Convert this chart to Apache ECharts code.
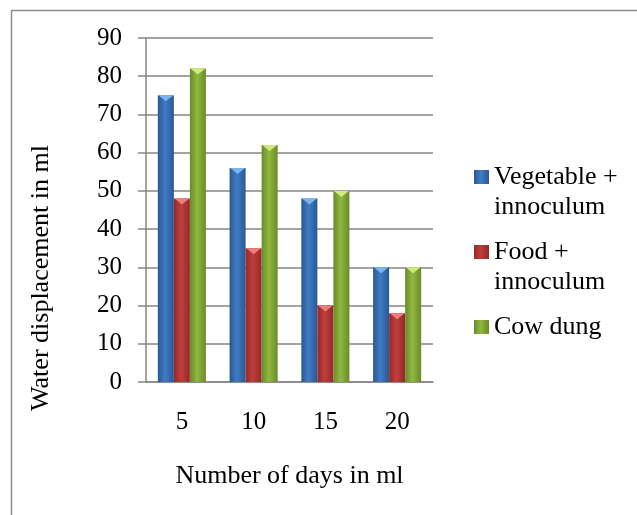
<!DOCTYPE html>
<html>
<head>
<meta charset="utf-8">
<script src="https://cdn.jsdelivr.net/npm/echarts@6/dist/echarts.min.js"></script>
<style>
  html, body { margin: 0; padding: 0; background: #fff; }
  #chart { width: 637px; height: 515px; }
</style>
</head>
<body>
<div id="chart"></div>
<script>
// data
var days = ['5', '10', '15', '20'];
var seriesNames = ['Vegetable +\ninnoculum', 'Food +\ninnoculum', 'Cow dung'];
var vegetable = [75, 56, 48, 30];
var food = [48, 35, 20, 18];
var cowDung = [82, 62, 50, 30];
var yTicks = [0, 10, 20, 30, 40, 50, 60, 70, 80, 90];

var font = '"Liberation Serif", "Times New Roman", serif';

// shaded bar fill, dark edges and lighter middle
function shade(edge, mid) {
  return new echarts.graphic.LinearGradient(0, 0, 1, 0, [
    { offset: 0, color: edge },
    { offset: 0.45, color: mid },
    { offset: 1, color: edge },
  ]);
}

var fills = [
  shade('#2b5794', '#3f7cc6'),
  shade('#93292a', '#c23d3d'),
  shade('#6a8a2c', '#92b83f'),
];
var tips = ['#7ab4ef', '#ef7b7b', '#cfe97e'];
var values = [vegetable, food, cowDung];

var series = [];
seriesNames.forEach(function (name, i) {
  series.push({
    name: name,
    type: 'bar',
    barGap: '0%',
    barCategoryGap: '33%',
    itemStyle: { color: fills[i] },
    data: values[i],
  });
});
// little bevel on top of every bar
seriesNames.forEach(function (name, i) {
  series.push({
    name: name,
    type: 'pictorialBar',
    barGap: '0%',
    barCategoryGap: '33%',
    symbol: 'path://M0,0 L2,0 L1,1 Z',
    symbolSize: [15, 6],
    symbolPosition: 'end',
    symbolOffset: [0, 0],
    itemStyle: { color: tips[i] },
    z: 3,
    data: values[i],
  });
});

var chart = echarts.init(document.getElementById('chart'));
chart.setOption({
  animation: false,
  textStyle: { fontFamily: font },
  graphic: [
    {
      type: 'rect',
      shape: { x: 11.5, y: 10.5, width: 700, height: 600 },
      style: { fill: 'none', stroke: '#8c8c8c', lineWidth: 1.5 },
    },
    {
      type: 'text',
      x: 41,
      y: 278,
      rotation: Math.PI / 2,
      style: {
        text: 'Water displacement in ml',
        fontFamily: font,
        fontSize: 26,
        fill: '#000',
        align: 'center',
        verticalAlign: 'middle',
      },
    },
  ],
  grid: { left: 146, right: 204, top: 38, bottom: 133 },
  legend: {
    orient: 'vertical',
    left: 474,
    top: 132,
    padding: 0,
    itemGap: -15,
    itemWidth: 15,
    itemHeight: 14,
    icon: 'rect',
    data: seriesNames.slice(),
    // pad every label to three lines so the icon sits by the first line
    formatter: function (name) {
      var lines = [''].concat(name.split('\n'));
      while (lines.length < 3) lines.push('');
      return lines.join('\n');
    },
    textStyle: { fontFamily: font, fontSize: 26, color: '#000', lineHeight: 30 },
  },
  xAxis: {
    type: 'category',
    data: days,
    name: 'Number of days in ml',
    nameLocation: 'middle',
    nameGap: 81,
    nameTextStyle: { fontFamily: font, fontSize: 26, color: '#000' },
    axisLine: { lineStyle: { color: '#868686', width: 1.5 } },
    axisTick: { show: false },
    axisLabel: { fontFamily: font, fontSize: 25, color: '#000', margin: 28 },
  },
  yAxis: {
    type: 'value',
    min: yTicks[0],
    max: yTicks[yTicks.length - 1],
    interval: 10,
    axisLine: { show: true, lineStyle: { color: '#868686', width: 1.5 } },
    axisTick: { show: true, length: 8, lineStyle: { color: '#868686', width: 1.5 } },
    axisLabel: { fontFamily: font, fontSize: 25, color: '#000', margin: 24 },
    splitLine: { lineStyle: { color: '#868686', width: 1.5 } },
  },
  series: series,
});
</script>
</body>
</html>
